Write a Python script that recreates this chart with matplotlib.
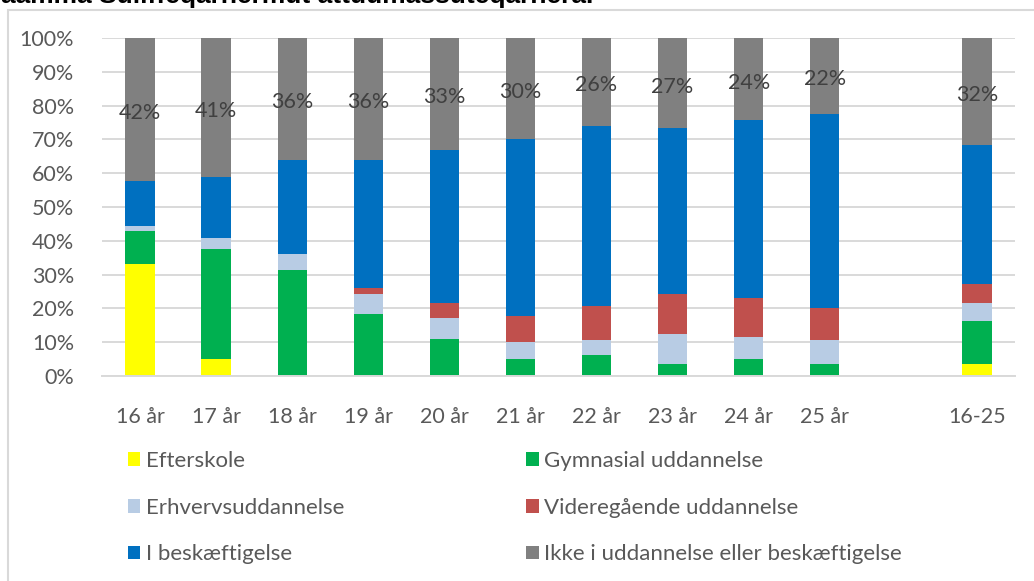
import numpy as np
import matplotlib
matplotlib.use('Agg')
import matplotlib.pyplot as plt
from matplotlib import patches

plt.rcParams['font.family'] = ['Lato', 'DejaVu Sans']

# categories (empty slot before the total column)
categories = ['16 år', '17 år', '18 år', '19 år', '20 år', '21 år', '22 år',
              '23 år', '24 år', '25 år', '', '16-25']

series_names = ['Efterskole', 'Gymnasial uddannelse', 'Erhvervsuddannelse',
                'Videregående uddannelse', 'I beskæftigelse',
                'Ikke i uddannelse eller beskæftigelse']

efterskole = [33.1, 4.9, 0, 0, 0, 0, 0, 0, 0, 0, 0, 3.5]
gymnasial = [9.8, 32.6, 31.5, 18.2, 11.0, 4.9, 6.1, 3.5, 4.9, 3.5, 0, 12.8]
erhverv = [1.5, 3.2, 4.6, 6.0, 6.1, 5.3, 4.5, 9.0, 6.5, 7.1, 0, 5.2]
videregaaende = [0, 0, 0, 1.7, 4.5, 7.6, 10.2, 11.8, 11.7, 9.4, 0, 5.7]
beskaeftigelse = [13.2, 18.2, 27.8, 38.0, 45.3, 52.2, 53.2, 49.0, 52.5, 57.5, 0, 41.2]
ikke = [42.4, 41.1, 36.1, 36.1, 33.1, 30.0, 26.0, 26.7, 24.4, 22.5, 0, 31.6]

colors = ['#FFFF00', '#00B050', '#B8CCE4', '#C0504D', '#0070C0', '#808080']

title = 'aamma Suliffeqarnermut attuumassuteqarnera.'

fig = plt.figure(figsize=(10.34, 5.81), dpi=100)
ax = fig.add_axes([102 / 1034, 1 - 376 / 581, (1015 - 102) / 1034, (376 - 38) / 581])

x = np.arange(len(categories))
data = [efterskole, gymnasial, erhverv, videregaaende, beskaeftigelse, ikke]
bottom = np.zeros(len(categories))
handles = []
for vals, name, col in zip(data, series_names, colors):
    vals = np.array(vals)
    b = ax.bar(x, vals, bottom=bottom, width=0.385, color=col, label=name,
               edgecolor='none')
    handles.append(b)
    bottom += vals

# labels on the grey segment
top_vals = np.array(ikke)
for xi, v, cat in zip(x, top_vals, categories):
    if cat == '':
        continue
    ax.text(xi, 100 - v / 2 - 1, f'{round(v):.0f}%', ha='center', va='center',
            fontsize=15.5, color='#404040')

ax.set_xlim(-0.5, len(categories) - 0.5)
ax.set_ylim(0, 100)
ax.set_yticks(np.arange(0, 101, 10))
ax.set_yticklabels([f'{t}%' for t in range(0, 101, 10)])
ax.set_xticks(x)
ax.set_xticklabels(categories)
ax.tick_params(axis='both', length=0, labelsize=15.5, colors='#595959')
ax.tick_params(axis='x', pad=22)
ax.tick_params(axis='y', pad=20)
ax.yaxis.grid(True, color='#d9d9d9', linewidth=1.4)
ax.set_axisbelow(True)
for s in ['top', 'right', 'left']:
    ax.spines[s].set_visible(False)
ax.spines['bottom'].set_color('#d9d9d9')
ax.spines['bottom'].set_linewidth(1.4)

# legend filled row by row like the reference
order = [0, 2, 4, 1, 3, 5]
leg = fig.legend(handles=[handles[i] for i in order],
                 labels=[series_names[i] for i in order], loc='upper left',
                 bbox_to_anchor=(128 / 1034, 1 - 451 / 581), ncol=2, frameon=False,
                 fontsize=16, handlelength=0.55, handleheight=0.55,
                 handletextpad=0.25, labelspacing=1.2, columnspacing=8.2,
                 borderpad=0, borderaxespad=0, labelcolor='#595959')

# chart border
fig.patches.append(patches.Rectangle((8 / 1034, -0.1), 1.2, 1.1 - 10 / 581,
                                     transform=fig.transFigure, fill=False,
                                     edgecolor='#d9d9d9', linewidth=1.5))

# cut-off title at the top
fig.text(1 / 1034, 1 - 3 / 581, title, ha='left', va='baseline',
         fontsize=19, fontweight='bold', color='black',
         family=['Liberation Sans', 'DejaVu Sans'])

fig.savefig('out.png', dpi=100, facecolor='white')
